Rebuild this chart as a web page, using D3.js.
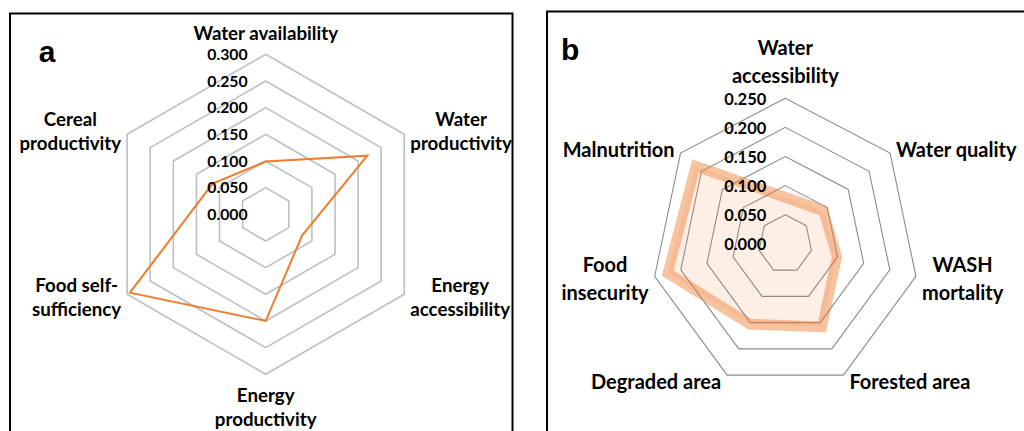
<!DOCTYPE html>
<html>
<head>
<meta charset="utf-8">
<script src="https://cdn.jsdelivr.net/npm/d3@7"></script>
<style>
  html, body { margin:0; padding:0; background:#fff; }
  svg { display:block; }
  .tick { font-family: Lato, "Open Sans", sans-serif; font-weight:700; fill:#000; }
  .cat { font-family: Lato, "Open Sans", sans-serif; font-weight:700; fill:#000; }
  .tag { font-family: "Liberation Sans", Arial, sans-serif; font-weight:700; font-size:30px; fill:#000; }
</style>
</head>
<body>
<svg id="chart" width="1024" height="431"></svg>
<script>
// panel a — six axes, clockwise from top
const aAxes = [
  ["Water availability"],
  ["Water", "productivity"],
  ["Energy", "accessibility"],
  ["Energy", "productivity"],
  ["Food self-", "sufficiency"],
  ["Cereal", "productivity"]
];
const aValues = [0.099, 0.220, 0.079, 0.200, 0.294, 0.115];
const aTicks = [0.000, 0.050, 0.100, 0.150, 0.200, 0.250, 0.300];

// panel b — seven axes, clockwise from top
const bAxes = [
  ["Water", "accessibility"],
  ["Water quality"],
  ["WASH", "mortality"],
  ["Forested area"],
  ["Degraded area"],
  ["Food", "insecurity"],
  ["Malnutrition"]
];
const bValues = [0.080, 0.091, 0.099, 0.158, 0.153, 0.225, 0.214];
const bTicks = [0.000, 0.050, 0.100, 0.150, 0.200, 0.250];

const svg = d3.select('#chart');

// frames
svg.append('rect').attr('x', 10).attr('y', 13.5).attr('width', 502.5).attr('height', 500)
  .attr('fill', 'none').attr('stroke', '#000').attr('stroke-width', 2);
svg.append('rect').attr('x', 547).attr('y', 11.5).attr('width', 600).attr('height', 500)
  .attr('fill', 'none').attr('stroke', '#000').attr('stroke-width', 2);

svg.append('text').attr('class', 'tag').attr('x', 47).attr('y', 62).attr('text-anchor', 'middle').text('a');
svg.append('text').attr('class', 'tag').attr('x', 561).attr('y', 60).text('b');

function radar(opt){
  const n = opt.axes.length;
  const ang = i => i * 2 * Math.PI / n;
  const r = d3.scaleLinear().domain([0, d3.max(opt.ticks)]).range([0, opt.R]);
  const g = svg.append('g')
    .attr('transform', `translate(${opt.cx},${opt.cy}) scale(1,${opt.sy})`);

  const ring = d3.lineRadial()
    .angle((d, i) => ang(i))
    .radius(d => r(d))
    .curve(d3.curveLinearClosed);

  // grid rings
  g.selectAll('.ring').data(opt.ticks.filter(t => t > 0)).enter().append('path')
    .attr('class', 'ring')
    .attr('d', t => ring(d3.range(n).map(() => t)))
    .attr('fill', 'none')
    .attr('stroke', opt.gridColor)
    .attr('stroke-width', opt.gridWidth)
    .attr('vector-effect', 'non-scaling-stroke');

  // series
  if(opt.style === 'line'){
    g.append('path').attr('d', ring(opt.values))
      .attr('fill', 'none').attr('stroke', '#ED7D31').attr('stroke-width', 2)
      .attr('stroke-linejoin', 'miter');
  } else {
    g.append('path').attr('d', ring(opt.values))
      .attr('fill', '#ED7D31').attr('fill-opacity', 0.12)
      .attr('stroke', '#ED7D31').attr('stroke-opacity', 0.45)
      .attr('stroke-width', 10).attr('stroke-linejoin', 'miter');
  }

  // tick labels
  g.selectAll('.tick').data(opt.ticks).enter().append('text')
    .attr('class', 'tick')
    .attr('x', opt.tickX)
    .attr('y', t => -r(t))
    .attr('dy', '0.36em')
    .attr('text-anchor', 'end')
    .style('font-size', opt.tickSize + 'px')
    .text(t => t.toFixed(3));

  // category labels
  opt.axes.forEach((lines, i) => {
    const s = Math.sin(ang(i)), c = Math.cos(ang(i));
    const t = g.append('text').attr('class', 'cat').style('font-size', opt.catSize + 'px')
      .attr('text-anchor', 'middle');
    const spans = lines.map(l => t.append('tspan').text(l));
    const w = d3.max(spans, sp => sp.node().getComputedTextLength());
    const h = lines.length * opt.lineH;
    let x, y;
    if(Math.abs(s) < 0.1){
      x = 0;
      y = c > 0 ? -opt.R - opt.padV - h / 2 : opt.R + opt.padV + h / 2;
    } else {
      x = opt.R * s + Math.sign(s) * (w / 2 + opt.padH);
      y = -opt.R * c - c * 6.5;
    }
    spans.forEach((sp, k) => {
      sp.attr('x', x).attr('y', y - h / 2 + opt.lineH * (k + 0.5)).attr('dy', '0.36em');
    });
  });
}

radar({
  axes: aAxes, values: aValues, ticks: aTicks,
  cx: 265.7, cy: 214.3, R: 160, sy: 1,
  gridColor: '#bfbfbf', gridWidth: 1.6, style: 'line',
  tickX: -18, tickSize: 15.8, catSize: 18.7, lineH: 24, padH: 6, padV: 9
});

radar({
  axes: bAxes, values: bValues, ticks: bTicks,
  cx: 785.3, cy: 243.9, R: 134, sy: 1.087,
  gridColor: '#8c8c8c', gridWidth: 1.1, style: 'band',
  tickX: -19, tickSize: 16.5, catSize: 20, lineH: 26, padH: 6, padV: 8
});
</script>
</body>
</html>
